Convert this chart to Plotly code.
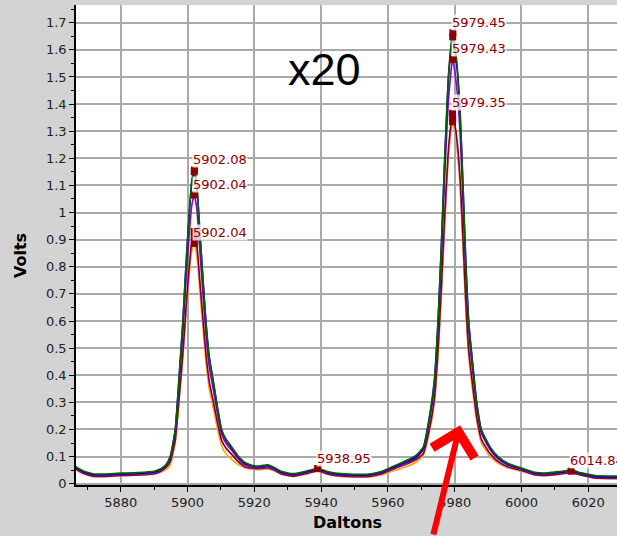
import plotly.graph_objects as go

# ---------------- data ----------------
daltons = [5866.6, 5868, 5870, 5872, 5875, 5880, 5885, 5890, 5892, 5893.5, 5894.8, 5896.3,
           5897.5, 5898.6, 5899.5, 5900.5, 5901.3, 5902, 5902.8, 5903.6, 5904.5, 5905.5,
           5906.5, 5907.7, 5909, 5910.2, 5911.5, 5913.2, 5915, 5917.2, 5920, 5922, 5924,
           5926, 5928, 5931.7, 5935, 5939, 5942, 5945, 5950, 5955, 5958, 5960, 5963.6,
           5966, 5968.5, 5970.6, 5972.6, 5973.9, 5975, 5976, 5977, 5978.2, 5979.4, 5980.5,
           5981.6, 5982.5, 5983.3, 5984.2, 5985.9, 5986.6, 5988, 5990.6, 5993, 5996, 6000,
           6004, 6008, 6012, 6015, 6018, 6022, 6028.6]

volts_green = [0.063, 0.052, 0.042, 0.036, 0.036, 0.039, 0.041, 0.046, 0.055, 0.07, 0.1, 0.2,
               0.4, 0.6, 0.8, 1.0, 1.12, 1.157, 1.1, 0.95, 0.78, 0.6, 0.47, 0.38, 0.28, 0.2,
               0.165, 0.136, 0.105, 0.078, 0.066, 0.066, 0.07, 0.06, 0.046, 0.037, 0.045,
               0.056, 0.045, 0.038, 0.035, 0.037, 0.045, 0.055, 0.075, 0.088, 0.105, 0.136,
               0.26, 0.38, 0.6, 0.88, 1.2, 1.52, 1.663, 1.57, 1.38, 1.1, 0.83, 0.6, 0.38, 0.3,
               0.2, 0.136, 0.1, 0.075, 0.058, 0.042, 0.04, 0.046, 0.05, 0.04, 0.03, 0.028]

volts_navy = [0.06, 0.049, 0.039, 0.033, 0.033, 0.036, 0.038, 0.043, 0.052, 0.067, 0.097, 0.196,
              0.395, 0.595, 0.795, 0.993, 1.113, 1.15, 1.093, 0.944, 0.775, 0.596, 0.466, 0.376,
              0.276, 0.196, 0.161, 0.132, 0.101, 0.074, 0.063, 0.063, 0.067, 0.057, 0.043,
              0.034, 0.042, 0.053, 0.042, 0.035, 0.032, 0.034, 0.042, 0.052, 0.071, 0.083, 0.1,
              0.13, 0.255, 0.375, 0.594, 0.872, 1.19, 1.507, 1.648, 1.556, 1.367, 1.09, 0.822,
              0.594, 0.376, 0.296, 0.196, 0.132, 0.096, 0.072, 0.055, 0.039, 0.037, 0.043,
              0.047, 0.037, 0.027, 0.025]

volts_purple = [0.057, 0.046, 0.036, 0.03, 0.03, 0.033, 0.035, 0.04, 0.049, 0.064, 0.093, 0.182,
                0.366, 0.55, 0.734, 0.918, 1.028, 1.065, 1.01, 0.872, 0.715, 0.55, 0.43, 0.347,
                0.255, 0.182, 0.149, 0.123, 0.094, 0.069, 0.059, 0.059, 0.062, 0.053, 0.04,
                0.031, 0.039, 0.05, 0.039, 0.032, 0.029, 0.031, 0.039, 0.049, 0.066, 0.078,
                0.095, 0.125, 0.241, 0.354, 0.561, 0.824, 1.125, 1.426, 1.565, 1.473, 1.294,
                1.03, 0.777, 0.561, 0.354, 0.279, 0.185, 0.125, 0.091, 0.068, 0.052, 0.036,
                0.034, 0.04, 0.044, 0.034, 0.024, 0.022]

volts_darkred = [0.054, 0.043, 0.033, 0.027, 0.027, 0.03, 0.032, 0.037, 0.046, 0.06, 0.08, 0.16,
                 0.32, 0.48, 0.64, 0.8, 0.896, 0.93, 0.88, 0.76, 0.624, 0.48, 0.376, 0.304,
                 0.224, 0.16, 0.132, 0.109, 0.084, 0.062, 0.056, 0.056, 0.059, 0.05, 0.037,
                 0.028, 0.036, 0.047, 0.036, 0.029, 0.026, 0.028, 0.036, 0.046, 0.064, 0.075,
                 0.09, 0.111, 0.212, 0.311, 0.491, 0.721, 0.983, 1.245, 1.366, 1.287, 1.131,
                 0.901, 0.68, 0.491, 0.311, 0.245, 0.163, 0.111, 0.081, 0.062, 0.049, 0.033,
                 0.031, 0.037, 0.041, 0.031, 0.021, 0.019]

volts_lilac = [0.052, 0.041, 0.031, 0.026, 0.026, 0.029, 0.031, 0.035, 0.044, 0.058, 0.077, 0.156,
               0.313, 0.47, 0.627, 0.784, 0.878, 0.91, 0.862, 0.745, 0.611, 0.47, 0.368, 0.297,
               0.219, 0.156, 0.129, 0.106, 0.082, 0.06, 0.054, 0.054, 0.057, 0.048, 0.036,
               0.027, 0.035, 0.046, 0.035, 0.028, 0.025, 0.027, 0.035, 0.044, 0.062, 0.073,
               0.087, 0.108, 0.207, 0.304, 0.48, 0.706, 0.963, 1.22, 1.345, 1.261, 1.108,
               0.883, 0.666, 0.48, 0.304, 0.239, 0.159, 0.108, 0.079, 0.06, 0.047, 0.032,
               0.03, 0.036, 0.04, 0.03, 0.02, 0.018]

volts_orange = [0.052, 0.042, 0.033, 0.028, 0.028, 0.032, 0.033, 0.036, 0.042, 0.052, 0.068, 0.15,
                0.31, 0.47, 0.62, 0.77, 0.86, 0.886, 0.84, 0.72, 0.59, 0.45, 0.35, 0.28, 0.2,
                0.14, 0.11, 0.09, 0.072, 0.058, 0.052, 0.052, 0.054, 0.047, 0.035, 0.027,
                0.034, 0.046, 0.035, 0.028, 0.025, 0.026, 0.032, 0.04, 0.055, 0.065, 0.08,
                0.105, 0.2, 0.3, 0.47, 0.7, 0.96, 1.22, 1.335, 1.26, 1.1, 0.87, 0.65, 0.47,
                0.29, 0.23, 0.15, 0.1, 0.075, 0.058, 0.046, 0.032, 0.03, 0.036, 0.042, 0.032,
                0.022, 0.02]

series_names = ["orange", "lilac", "darkred", "purple", "navy", "green"]
series_values = [volts_orange, volts_lilac, volts_darkred, volts_purple, volts_navy, volts_green]
series_colors = ["#FFA500", "#C8A2C8", "#8B0000", "#9400D3", "#00008B", "#006400"]

peak_x = [5902.08, 5902.0, 5902.04, 5902.0, 5902.0, 5902.04,
          5979.45, 5979.4, 5979.43, 5979.35, 5979.4, 5979.35,
          5938.95, 6014.84]
peak_y = [1.157, 1.15, 1.065, 0.93, 0.91, 0.886,
          1.663, 1.648, 1.565, 1.366, 1.345, 1.335,
          0.056, 0.046]

label_x = [5902.08, 5902.04, 5902.04, 5938.95, 5979.45, 5979.43, 5979.35, 6014.84]
label_y = [1.157, 1.065, 0.886, 0.056, 1.663, 1.565, 1.366, 0.046]
label_text = ["5902.08", "5902.04", "5902.04", "5938.95", "5979.45", "5979.43", "5979.35", "6014.84"]

x_ticks = [5880, 5900, 5920, 5940, 5960, 5980, 6000, 6020]

# ---------------- figure ----------------
fig = go.Figure()
for name, vals, col in zip(series_names, series_values, series_colors):
    fig.add_trace(go.Scatter(x=daltons, y=vals, mode="lines", name=name,
                             line=dict(color=col, width=1.6, shape="spline", smoothing=0.5),
                             showlegend=False, hoverinfo="skip"))

fig.add_trace(go.Scatter(x=peak_x, y=peak_y, mode="markers",
                         marker=dict(symbol="square", size=7, color="#8B0000"),
                         showlegend=False, hoverinfo="skip"))

annotations = []
for lx, ly, lt in zip(label_x, label_y, label_text):
    annotations.append(dict(x=lx, y=ly, xref="x", yref="y", text=lt, showarrow=False,
                            xanchor="left", yanchor="bottom", xshift=-2, yshift=2,
                            font=dict(family="DejaVu Sans", size=13, color="#8B0000"),
                            bgcolor="rgba(255,255,255,0.75)", borderpad=0))

annotations.append(dict(x=0.46, y=0.865, xref="paper", yref="paper", text="x20",
                        showarrow=False, xanchor="center", yanchor="middle",
                        font=dict(family="Liberation Sans", size=45, color="black")))

annotations.append(dict(x=5981.6, y=0.216, xref="x", yref="y", text="",
                        showarrow=True, ax=-27, ay=125, axref="pixel", ayref="pixel",
                        arrowhead=4, arrowsize=1.4, arrowwidth=6, arrowcolor="#FF0000",
                        standoff=0))

annotations.append(dict(x=-0.1035, y=0.477, xref="paper", yref="paper", text="<b>Volts</b>",
                        showarrow=False, textangle=-90, xanchor="center", yanchor="middle",
                        font=dict(family="DejaVu Sans", size=16, color="black")))
annotations.append(dict(x=0.501, y=-0.079, xref="paper", yref="paper", text="<b>Daltons</b>",
                        showarrow=False, xanchor="center", yanchor="middle",
                        font=dict(family="DejaVu Sans", size=16, color="black")))

fig.update_layout(
    width=617, height=536,
    margin=dict(l=76, r=0, t=5, b=51),
    paper_bgcolor="#D3D3D3", plot_bgcolor="white",
    annotations=annotations,
    font=dict(family="DejaVu Sans", size=13, color="#222222"),
)

fig.update_xaxes(range=[5866.6, 6028.6], tickmode="array", tickvals=x_ticks,
                 showgrid=True, gridcolor="#A9A9A9", gridwidth=2, zeroline=False,
                 showline=True, linecolor="black", linewidth=1.5,
                 ticks="outside", ticklen=5, tickcolor="black", tickwidth=1,
                 minor=dict(dtick=10, tick0=5870, ticks="outside", ticklen=3,
                            tickcolor="black", showgrid=False),
                 tickfont=dict(family="DejaVu Sans", size=13, color="#222222"))
fig.update_yaxes(range=[-0.0048, 1.7653], tickmode="linear", tick0=0, dtick=0.1,
                 showgrid=True, gridcolor="#A9A9A9", gridwidth=2, zeroline=False,
                 showline=True, linecolor="black", linewidth=1.5,
                 ticks="outside", ticklen=5, tickcolor="black", tickwidth=1,
                 minor=dict(dtick=0.05, ticks="outside", ticklen=3,
                            tickcolor="black", showgrid=False),
                 tickfont=dict(family="DejaVu Sans", size=13, color="#222222"))

fig.write_html("out.html")
